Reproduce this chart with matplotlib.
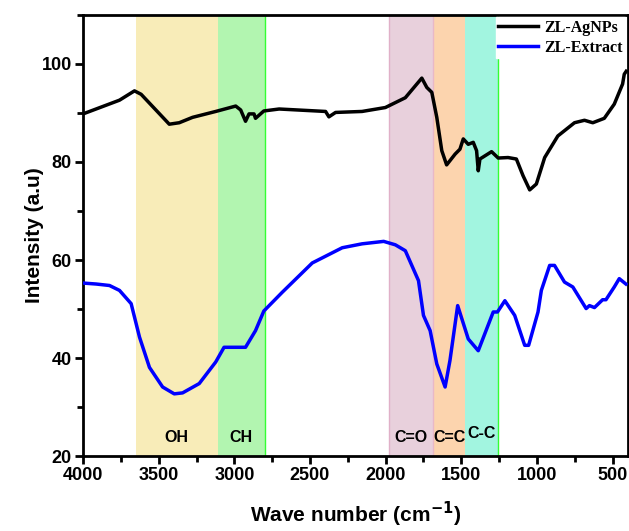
import numpy as np
import matplotlib.pyplot as plt
from matplotlib.ticker import MultipleLocator

# FTIR spectra
agnps_wn = [4000, 3759, 3660, 3616, 3430, 3364, 3276, 3123, 2991, 2958, 2926, 2903,
            2870, 2860, 2805, 2704, 2397, 2375, 2331, 2156, 2002, 1870, 1761, 1728,
            1695, 1662, 1629, 1597, 1541, 1509, 1487, 1454, 1421, 1399, 1388, 1377,
            1300, 1256, 1191, 1136, 1092, 1048, 1004, 949, 862, 752, 686, 631, 555,
            489, 434, 423, 410]
agnps_int = [89.8, 92.6, 94.5, 93.8, 87.7, 88.0, 89.1, 90.3, 91.4, 90.6, 88.3, 89.8,
             89.8, 88.9, 90.4, 90.8, 90.3, 89.2, 90.1, 90.3, 91.1, 93.1, 97.1, 95.2,
             94.2, 89.1, 82.3, 79.4, 81.6, 82.6, 84.7, 83.6, 84.0, 82.3, 78.2, 80.6,
             82.1, 80.8, 80.9, 80.6, 77.2, 74.3, 75.5, 80.9, 85.3, 88.0, 88.5, 88.0, 88.9,
             91.8, 95.9, 97.9, 98.5]

extract_wn = [4000, 3912, 3825, 3759, 3682, 3627, 3561, 3474, 3397, 3342, 3232, 3123,
              3068, 2926, 2860, 2805, 2684, 2485, 2287, 2156, 2013, 1936, 1870, 1783,
              1750, 1706, 1662, 1607, 1575, 1524, 1454, 1388, 1289, 1261, 1212, 1147,
              1081, 1055, 993, 971, 916, 884, 818, 763, 675, 653, 620, 566, 544, 489,
              456, 412]
extract_int = [55.3, 55.1, 54.8, 53.8, 51.1, 44.3, 38.1, 34.1, 32.7, 32.9, 34.8, 39.2,
               42.2, 42.2, 45.6, 49.6, 53.4, 59.4, 62.5, 63.3, 63.8, 63.1, 61.9, 55.8,
               48.7, 45.6, 38.8, 34.1, 39.5, 50.7, 43.9, 41.5, 49.4, 49.4, 51.7, 48.7,
               42.6, 42.6, 49.4, 53.8, 58.9, 58.9, 55.5, 54.5, 50.1, 50.7, 50.3, 51.9,
               51.9, 54.5, 56.2, 55.1]

# band regions: (start, end, label)
bands = [(3650, 3110, 'OH'), (3110, 2800, 'CH'), (1980, 1685, 'C=O'),
         (1685, 1475, 'C=C'), (1475, 1255, 'C-C')]
band_colors = ['#f8ecb8', '#b2f5b0', '#e8d0dc', '#fcd4ae', '#a2f5e0']

plt.rcParams['font.family'] = ['Liberation Sans', 'DejaVu Sans']

fig = plt.figure(figsize=(6.29, 5.31), dpi=100)
ax = fig.add_axes([0.132, 0.141, 0.866, 0.831])

for (a, b, lab), c in zip(bands, band_colors):
    ax.axvspan(a, b, color=c, lw=0, zorder=0)
ax.axvline(2800, color='#33ff33', lw=1, zorder=1)
ax.axvline(1255, color='#33ff33', lw=1, zorder=1)
ax.axvline(1980, color='#e0b0c8', lw=1, zorder=1)
ax.axvline(1685, color='#e8b8c8', lw=1, zorder=1)

label_y = [23.9, 23.9, 23.9, 23.9, 24.7]
for (a, b, lab), yy in zip(bands, label_y):
    ax.text((a + b) / 2, yy, lab, ha='center', va='center', fontsize=11.5,
            fontweight='bold')

ax.plot(agnps_wn, agnps_int, color='black', lw=2.5, label='ZL-AgNPs', zorder=3)
ax.plot(extract_wn, extract_int, color='#0000ff', lw=2.5, label='ZL-Extract', zorder=3)

ax.set_xlim(4000, 400)
ax.set_ylim(20, 110)
ax.xaxis.set_major_locator(MultipleLocator(500))
ax.xaxis.set_minor_locator(MultipleLocator(250))
ax.yaxis.set_major_locator(MultipleLocator(20))
ax.yaxis.set_minor_locator(MultipleLocator(10))
ax.tick_params(which='major', direction='out', length=6, width=2, labelsize=13, pad=2)
ax.tick_params(which='minor', direction='out', length=4, width=2)
for lbl in ax.get_xticklabels() + ax.get_yticklabels():
    lbl.set_fontweight('bold')
for sp in ax.spines.values():
    sp.set_linewidth(2)

ax.set_xlabel('Wave number (cm$^{\\mathbf{-1}}$)', fontsize=15, fontweight='bold',
              labelpad=11)
ax.set_ylabel('Intensity (a.u)', fontsize=15, fontweight='bold', labelpad=-2)

leg = ax.legend(loc='upper right', frameon=True, fancybox=False, edgecolor='white',
                framealpha=1, handlelength=2.5, handletextpad=0.4, borderpad=0.15,
                labelspacing=0.25, borderaxespad=0.15,
                prop={'family': 'Liberation Serif', 'weight': 'bold', 'size': 11.5})

fig.savefig('out.png', dpi=100)
